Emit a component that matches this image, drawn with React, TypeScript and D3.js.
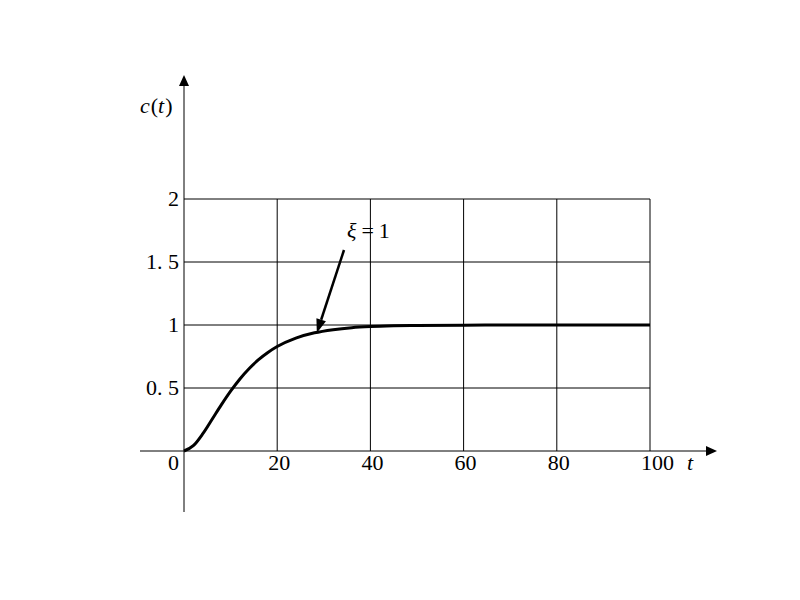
import React from "react";
import * as d3 from "d3";

const timeValues = [0, 2, 4, 6, 8, 10, 12, 14, 16, 18, 20, 24, 28, 32, 36, 40, 45, 50, 60, 70, 80, 100];
const responseValues = [0, 0.042, 0.135, 0.25, 0.366, 0.475, 0.572, 0.655, 0.725, 0.782, 0.829, 0.896, 0.938, 0.963, 0.979, 0.988, 0.994, 0.997, 0.999, 1.0, 1.0, 1.0];
const xTicks = [20, 40, 60, 80, 100];
const xTickLabels = ["20", "40", "60", "80", "100"];
const yTicks = [0.5, 1, 1.5, 2];
const yTickLabels = ["0. 5", "1", "1. 5", "2"];
const annotationPoint = { t: 28.5, c: 0.936 };

const FONT = "'Liberation Serif', 'DejaVu Serif', serif";

export default function App() {
  const x = d3.scaleLinear().domain([0, 100]).range([184, 650]);
  const y = d3.scaleLinear().domain([0, 2]).range([451, 199]);

  const data = timeValues.map((t, i) => [t, responseValues[i]] as [number, number]);
  const line = d3
    .line<[number, number]>()
    .x((d) => x(d[0]))
    .y((d) => y(d[1]))
    .curve(d3.curveMonotoneX);

  const x0 = x(0);
  const y0 = y(0);
  const xAxisStart = 140;
  const xAxisEnd = 717;
  const yAxisBottom = 512;
  const yAxisTop = 75;

  const tipX = x(annotationPoint.t);
  const tipY = y(annotationPoint.c);
  const tailX = 344;
  const tailY = 250;
  const ang = Math.atan2(tipY - tailY, tipX - tailX);
  const hl = 14;
  const hw = 5;
  const bx = tipX - hl * Math.cos(ang);
  const by = tipY - hl * Math.sin(ang);
  const head = [
    [tipX, tipY],
    [bx + hw * Math.sin(ang), by - hw * Math.cos(ang)],
    [bx - hw * Math.sin(ang), by + hw * Math.cos(ang)],
  ];

  return (
    <svg width={800} height={600} style={{ display: "block", position: "absolute", left: 0, top: 0 }}>
      <rect width={800} height={600} fill="#fff" />
      {xTicks.map((t) => (
        <line key={"vx" + t} x1={x(t)} x2={x(t)} y1={y(0)} y2={y(2)} stroke="#000" strokeWidth={1} />
      ))}
      {yTicks.map((v) => (
        <line key={"hy" + v} x1={x(0)} x2={x(100)} y1={y(v)} y2={y(v)} stroke="#000" strokeWidth={1} />
      ))}
      <line x1={xAxisStart} x2={xAxisEnd - 8} y1={y0} y2={y0} stroke="#000" strokeWidth={1} />
      <polygon points={`${xAxisEnd},${y0} ${xAxisEnd - 11},${y0 - 5} ${xAxisEnd - 11},${y0 + 5}`} fill="#000" />
      <line x1={x0} x2={x0} y1={yAxisBottom} y2={yAxisTop + 8} stroke="#000" strokeWidth={1} />
      <polygon points={`${x0},${yAxisTop} ${x0 - 5},${yAxisTop + 11} ${x0 + 5},${yAxisTop + 11}`} fill="#000" />
      <path d={line(data) || ""} fill="none" stroke="#000" strokeWidth={3} />
      <line x1={tailX} y1={tailY} x2={bx} y2={by} stroke="#000" strokeWidth={2.5} />
      <polygon points={head.map((p) => p.join(",")).join(" ")} fill="#000" />
      <g fontFamily={FONT} fontSize={22} fill="#000">
        {xTicks.map((t, i) => (
          <text key={"xl" + t} x={x(t) - 9} y={470}>
            {xTickLabels[i]}
          </text>
        ))}
        <text x={179} y={470} textAnchor="end">0</text>
        {yTicks.map((v, i) => (
          <text key={"yl" + v} x={179} y={y(v) + 7} textAnchor="end">
            {yTickLabels[i]}
          </text>
        ))}
        <text x={140} y={113}>
          <tspan fontStyle="italic">c</tspan>
          <tspan dx={1}>(</tspan>
          <tspan fontStyle="italic">t</tspan>
          <tspan dx={1}>)</tspan>
        </text>
        <text x={687} y={470} fontStyle="italic">t</text>
        <text x={347} y={238}>
          <tspan fontStyle="italic">ξ</tspan>
          <tspan dx={5}>=</tspan>
          <tspan dx={5}>1</tspan>
        </text>
      </g>
    </svg>
  );
}
